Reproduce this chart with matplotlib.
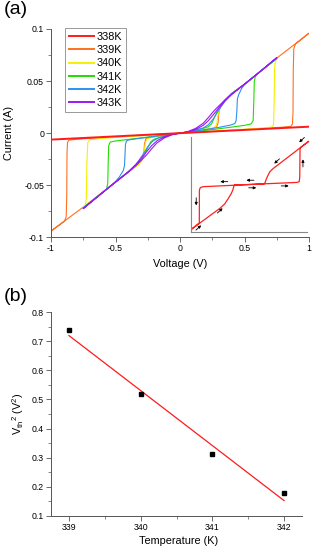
import matplotlib
matplotlib.use("Agg")
import matplotlib.pyplot as plt

plt.rcParams['font.family'] = ['Liberation Sans', 'DejaVu Sans']
plt.rcParams['axes.unicode_minus'] = False
plt.rcParams['mathtext.default'] = 'regular'

# ---- panel (a): I-V loops ----
temps = ["338K", "339K", "340K", "341K", "342K", "343K"]
colors = ["#ff1a1a", "#ff7020", "#f2f200", "#22dd00", "#2f8ff0", "#9b19f5"]

V_338 = [-1, -0.5, 0, 0.5, 1]
I_338 = [-0.0062, -0.0031, 0, 0.0031, 0.0062]

V_339 = [0, 0.2, 0.5, 0.8, 0.86, 0.872, 0.876, 0.878, 0.882, 0.895, 1.0,
         0.75, 0.5, 0.4, 0.34, 0.31, 0.30, 0.295, 0.285, 0.25, 0.1, 0,
         -0.2, -0.5, -0.8, -0.86, -0.872, -0.876, -0.878, -0.882, -0.895, -1.0,
         -0.75, -0.5, -0.4, -0.32, -0.29, -0.28, -0.275, -0.265, -0.23, -0.1, 0]
I_339 = [0, 0.0013, 0.0035, 0.0058, 0.0065, 0.009, 0.02, 0.06, 0.081, 0.0855, 0.096,
         0.072, 0.047, 0.038, 0.031, 0.025, 0.018, 0.010, 0.0065, 0.0045, 0.0015, 0,
         -0.0013, -0.0035, -0.0058, -0.0067, -0.009, -0.02, -0.06, -0.08, -0.0845, -0.094,
         -0.071, -0.047, -0.037, -0.030, -0.025, -0.018, -0.010, -0.0055, -0.004, -0.0015, 0]

V_340 = [0, 0.2, 0.4, 0.6, 0.71, 0.725, 0.73, 0.733, 0.738, 0.75,
         0.6, 0.5, 0.4, 0.34, 0.31, 0.295, 0.287, 0.275, 0.24, 0.1, 0,
         -0.2, -0.4, -0.6, -0.70, -0.715, -0.722, -0.726, -0.732, -0.75,
         -0.6, -0.5, -0.4, -0.32, -0.29, -0.275, -0.268, -0.255, -0.22, -0.1, 0]
I_340 = [0, 0.0015, 0.003, 0.0045, 0.0058, 0.008, 0.03, 0.062, 0.068, 0.0715,
         0.057, 0.047, 0.038, 0.031, 0.025, 0.018, 0.010, 0.006, 0.0045, 0.0017, 0,
         -0.0017, -0.0033, -0.005, -0.0063, -0.009, -0.03, -0.062, -0.068, -0.0715,
         -0.057, -0.047, -0.037, -0.030, -0.024, -0.016, -0.009, -0.0055, -0.004, -0.0016, 0]

V_341 = [0, 0.1, 0.2, 0.3, 0.4, 0.5, 0.55, 0.567, 0.572, 0.576, 0.585, 0.6, 0.75,
         0.6, 0.5, 0.4, 0.35, 0.3, 0.27, 0.245, 0.22, 0.18, 0.1, 0,
         -0.1, -0.2, -0.3, -0.4, -0.5, -0.54, -0.553, -0.557, -0.56, -0.57, -0.6, -0.75,
         -0.6, -0.5, -0.4, -0.33, -0.28, -0.25, -0.225, -0.2, -0.16, -0.1, 0]
I_341 = [0, 0.0012, 0.0027, 0.0042, 0.0058, 0.0075, 0.0088, 0.012, 0.03, 0.05, 0.055, 0.057, 0.0718,
         0.057, 0.047, 0.038, 0.032, 0.024, 0.016, 0.009, 0.0062, 0.0045, 0.002, 0,
         -0.0013, -0.003, -0.0045, -0.006, -0.0075, -0.0085, -0.012, -0.03, -0.048, -0.054, -0.057, -0.0718,
         -0.057, -0.047, -0.037, -0.030, -0.022, -0.014, -0.008, -0.0058, -0.0042, -0.002, 0]

V_342 = [0, 0.1, 0.2, 0.3, 0.39, 0.425, 0.435, 0.44, 0.445, 0.455, 0.478, 0.5, 0.6, 0.75,
         0.6, 0.5, 0.4, 0.35, 0.3, 0.26, 0.22, 0.18, 0.1, 0,
         -0.1, -0.2, -0.3, -0.39, -0.415, -0.423, -0.426, -0.43, -0.44, -0.47, -0.5, -0.6, -0.75,
         -0.6, -0.5, -0.4, -0.34, -0.29, -0.25, -0.21, -0.17, -0.1, 0]
I_342 = [0, 0.0015, 0.0035, 0.0055, 0.0077, 0.0092, 0.012, 0.02, 0.033, 0.037, 0.043, 0.0465, 0.057, 0.072,
         0.057, 0.047, 0.038, 0.031, 0.022, 0.014, 0.008, 0.005, 0.0022, 0,
         -0.0015, -0.0032, -0.0048, -0.0063, -0.0075, -0.011, -0.02, -0.031, -0.036, -0.042, -0.0465, -0.057, -0.072,
         -0.057, -0.047, -0.037, -0.030, -0.021, -0.013, -0.0075, -0.0048, -0.0022, 0]

V_343 = [0, 0.06, 0.12, 0.18, 0.22, 0.26, 0.3, 0.35, 0.4, 0.5, 0.6, 0.75,
         0.6, 0.5, 0.4, 0.35, 0.3, 0.26, 0.22, 0.18, 0.12, 0.06, 0,
         -0.06, -0.12, -0.18, -0.22, -0.26, -0.3, -0.35, -0.4, -0.5, -0.6, -0.75,
         -0.6, -0.5, -0.4, -0.35, -0.3, -0.26, -0.22, -0.18, -0.12, -0.06, 0]
I_343 = [0, 0.001, 0.0033, 0.0075, 0.012, 0.018, 0.024, 0.031, 0.037, 0.047, 0.057, 0.0725,
         0.057, 0.047, 0.0375, 0.032, 0.026, 0.021, 0.015, 0.0095, 0.0045, 0.0015, 0,
         -0.001, -0.0033, -0.0075, -0.012, -0.018, -0.024, -0.031, -0.037, -0.047, -0.057, -0.0725,
         -0.057, -0.047, -0.0375, -0.032, -0.026, -0.021, -0.015, -0.0095, -0.0045, -0.0015, 0]

V_all = [V_338, V_339, V_340, V_341, V_342, V_343]
I_all = [I_338, I_339, I_340, I_341, I_342, I_343]

xticks_a = [-1, -0.5, 0, 0.5, 1]
xlabels_a = ["-1", "-0.5", "0", "0.5", "1"]
yticks_a = [-0.1, -0.05, 0, 0.05, 0.1]
ylabels_a = ["-0.1", "-0.05", "0", "0.05", "0.1"]

# inset: schematic loop (arbitrary units)
ins_x = [-0.25, 0.83, 0.865, 0.875, 0.88, 0.9, 1.03,
         0.88, 0.534, 0.42, 0.36, 0.33, 0.3, 0.28, 0.265,
         -0.79, -0.84, -0.855, -0.857, -0.99,
         -0.857, -0.5, -0.42, -0.36, -0.31, -0.28, -0.265, -0.25]
ins_y = [-0.013, 0.044, 0.06, 0.15, 0.76, 0.79, 0.91,
         0.77, 0.446, 0.34, 0.27, 0.2, 0.12, 0.05, 0.014,
         -0.046, -0.065, -0.12, -0.81, -0.94,
         -0.82, -0.5, -0.41, -0.30, -0.2, -0.12, -0.05, -0.013]
# arrows: (x, y, dx, dy)
arrows = [(-0.99, -0.82, -0.09, -0.1), (-0.87, -0.91, 0.09, 0.1), (-0.91, -0.36, 0, -0.16),
          (-0.5, -0.55, 0.09, 0.1), (-0.43, 0.06, -0.13, 0), (0.02, 0.09, -0.13, 0),
          (0.06, -0.07, 0.13, 0), (0.62, -0.03, 0.13, 0), (0.48, 0.49, -0.09, -0.1),
          (0.93, 0.45, 0, 0.16), (0.91, 0.94, -0.09, -0.1), (0.98, 0.83, 0.09, 0.1)]

# ---- panel (b) ----
T = [339, 340, 341, 342]
Vth2 = [0.74, 0.518, 0.313, 0.177]
fit_T = [339, 342]
fit_V = [0.72, 0.152]

spine_c = "#555555"

fig = plt.figure(figsize=(3.12, 5.5), dpi=100)

def style_axes(ax):
    for s in ["top", "right"]:
        ax.spines[s].set_visible(False)
    for s in ["left", "bottom"]:
        ax.spines[s].set_color(spine_c)
        ax.spines[s].set_linewidth(0.7)
    ax.tick_params(which="major", direction="out", length=3.5, width=0.6,
                   color=spine_c, labelsize=6.3, pad=1.5)
    ax.tick_params(which="minor", direction="out", length=2, width=0.5, color=spine_c)

ax = fig.add_axes([51/312, 1-237.3/550, 258/312, 208.3/550])
for i in range(len(temps)):
    lw = 1.4 if i == 0 else 0.8
    z = 4 if i == 0 else 2 + i * 0.1
    ax.plot(V_all[i], I_all[i], color=colors[i], lw=lw, zorder=z,
            solid_joinstyle="round", label=temps[i])
ax.set_xlim(-1, 1)
ax.set_ylim(-0.1, 0.1)
ax.set_xticks(xticks_a)
ax.set_xticklabels(xlabels_a)
ax.set_yticks(yticks_a)
ax.set_yticklabels(ylabels_a)
ax.set_xticks([-0.75, -0.25, 0.25, 0.75], minor=True)
ax.set_yticks([-0.075, -0.025, 0.025, 0.075], minor=True)
style_axes(ax)
ax.set_xlabel("Voltage (V)", fontsize=7.8)
ax.set_ylabel("Current (A)", fontsize=7.8)
ax.xaxis.set_label_coords(0.5, -0.105)
ax.yaxis.set_label_coords(-0.145, 0.5)

leg = ax.legend(loc="upper left", bbox_to_anchor=(65/312, 1-28/550),
                bbox_transform=fig.transFigure, borderaxespad=0,
                fontsize=7.8, handlelength=2.3, handletextpad=0.25,
                labelspacing=0.3, borderpad=0.35, fancybox=False,
                framealpha=1, edgecolor="#999999")
leg.get_frame().set_linewidth(0.7)
for h in leg.get_lines():
    h.set_linewidth(1.4)

ins = fig.add_axes([191/312, 1-232/550, 116/312, 95/550])
ins.patch.set_visible(False)
ins.plot(ins_x, ins_y, color="#ff2020", lw=0.9, clip_on=False, solid_joinstyle="round")
for (x, y, dx, dy) in arrows:
    ins.annotate("", xy=(x + dx/2, y + dy/2), xytext=(x - dx/2, y - dy/2),
                 arrowprops=dict(arrowstyle="-|>", color="k", lw=0.6,
                                 mutation_scale=4, shrinkA=0, shrinkB=0))
ins.set_xlim(-1, 1)
ins.set_ylim(-1, 1)
ins.set_xticks([])
ins.set_yticks([])
for s in ["top", "right"]:
    ins.spines[s].set_visible(False)
for s in ["left", "bottom"]:
    ins.spines[s].set_color("#888888")
    ins.spines[s].set_linewidth(0.8)

bx = fig.add_axes([51/312, 1-515.7/550, 251/312, 203.4/550])
bx.plot(fit_T, fit_V, color="#ff1a1a", lw=0.9)
bx.plot(T, Vth2, ls="none", marker="s", ms=3.4, color="black")
bx.set_xlim(338.75, 342.25)
bx.set_ylim(0.1, 0.8)
bx.set_xticks(T)
bx.set_xticklabels([str(t) for t in T])
yt_b = [0.1, 0.2, 0.3, 0.4, 0.5, 0.6, 0.7, 0.8]
bx.set_yticks(yt_b)
bx.set_yticklabels(["0.1", "0.2", "0.3", "0.4", "0.5", "0.6", "0.7", "0.8"])
bx.set_xticks([339.5, 340.5, 341.5], minor=True)
bx.set_yticks([0.15, 0.25, 0.35, 0.45, 0.55, 0.65, 0.75], minor=True)
style_axes(bx)
bx.set_xlabel("Temperature (K)", fontsize=7.8)
bx.set_ylabel(r"V$_{th}$$^{2}$ (V$^{2}$)", fontsize=7.8)
bx.xaxis.set_label_coords(0.51, -0.1)
bx.yaxis.set_label_coords(-0.1, 0.5)

fig.text(0.012, 1-1/550, "(a)", fontsize=14, va="top", ha="left")
fig.text(0.012, 1-288/550, "(b)", fontsize=14, va="top", ha="left")

fig.savefig("out.png", dpi=100)
